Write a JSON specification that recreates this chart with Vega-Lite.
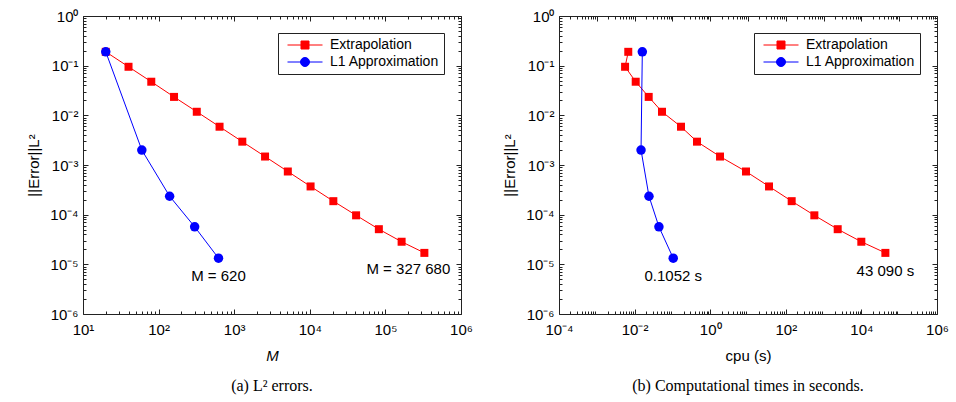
{
  "$schema": "https://vega.github.io/schema/vega-lite/v6.json",
  "background": "white",
  "padding": {"left": 26, "top": 8, "right": 4, "bottom": 4},
  "spacing": 29,
  "resolve": {"legend": {"color": "independent"}},
  "datasets": {
    "a": [
      {"series": "Extrapolation", "i": 0, "x": 20, "err": 0.19},
      {"series": "Extrapolation", "i": 1, "x": 40, "err": 0.095},
      {"series": "Extrapolation", "i": 2, "x": 80, "err": 0.0475},
      {"series": "Extrapolation", "i": 3, "x": 160, "err": 0.0235},
      {"series": "Extrapolation", "i": 4, "x": 320, "err": 0.0118},
      {"series": "Extrapolation", "i": 5, "x": 640, "err": 0.0059},
      {"series": "Extrapolation", "i": 6, "x": 1280, "err": 0.00295},
      {"series": "Extrapolation", "i": 7, "x": 2560, "err": 0.00148},
      {"series": "Extrapolation", "i": 8, "x": 5120, "err": 0.00074},
      {"series": "Extrapolation", "i": 9, "x": 10240, "err": 0.00037},
      {"series": "Extrapolation", "i": 10, "x": 20480, "err": 0.000187},
      {"series": "Extrapolation", "i": 11, "x": 40960, "err": 0.000097},
      {"series": "Extrapolation", "i": 12, "x": 81920, "err": 0.000051},
      {"series": "Extrapolation", "i": 13, "x": 163840, "err": 0.0000285},
      {"series": "Extrapolation", "i": 14, "x": 327680, "err": 0.000017},
      {"series": "L1 Approximation", "i": 0, "x": 20, "err": 0.19},
      {"series": "L1 Approximation", "i": 1, "x": 60, "err": 0.002},
      {"series": "L1 Approximation", "i": 2, "x": 140, "err": 0.000235},
      {"series": "L1 Approximation", "i": 3, "x": 300, "err": 0.000057},
      {"series": "L1 Approximation", "i": 4, "x": 620, "err": 0.0000133}
    ],
    "b": [
      {"series": "Extrapolation", "i": 0, "x": 0.0068, "err": 0.19},
      {"series": "Extrapolation", "i": 1, "x": 0.0056, "err": 0.095},
      {"series": "Extrapolation", "i": 2, "x": 0.0107, "err": 0.0475},
      {"series": "Extrapolation", "i": 3, "x": 0.0236, "err": 0.0235},
      {"series": "Extrapolation", "i": 4, "x": 0.053, "err": 0.0118},
      {"series": "Extrapolation", "i": 5, "x": 0.169, "err": 0.0059},
      {"series": "Extrapolation", "i": 6, "x": 0.448, "err": 0.00295},
      {"series": "Extrapolation", "i": 7, "x": 1.82, "err": 0.00148},
      {"series": "Extrapolation", "i": 8, "x": 8.85, "err": 0.00074},
      {"series": "Extrapolation", "i": 9, "x": 36, "err": 0.00037},
      {"series": "Extrapolation", "i": 10, "x": 143, "err": 0.000187},
      {"series": "Extrapolation", "i": 11, "x": 569, "err": 0.000097},
      {"series": "Extrapolation", "i": 12, "x": 2360, "err": 0.000051},
      {"series": "Extrapolation", "i": 13, "x": 9950, "err": 0.0000285},
      {"series": "Extrapolation", "i": 14, "x": 43090, "err": 0.000017},
      {"series": "L1 Approximation", "i": 0, "x": 0.016, "err": 0.19},
      {"series": "L1 Approximation", "i": 1, "x": 0.0148, "err": 0.002},
      {"series": "L1 Approximation", "i": 2, "x": 0.024, "err": 0.000235},
      {"series": "L1 Approximation", "i": 3, "x": 0.044, "err": 0.000057},
      {"series": "L1 Approximation", "i": 4, "x": 0.1052, "err": 0.0000133}
    ],
    "labA1": [{"x": 620, "err": 0.0000133, "label": "M = 620"}],
    "labA2": [{"x": 327680, "err": 0.000017, "label": "M = 327 680"}],
    "labB": [
      {"x": 0.1052, "err": 0.0000133, "label": "0.1052 s"},
      {"x": 43090, "err": 0.000017, "label": "43 090 s"}
    ]
  },
  "hconcat": [
    {
      "width": 378,
      "height": 298,
      "title": {"text": "(a) L² errors.", "orient": "bottom", "font": "Liberation Serif", "fontSize": 16, "fontWeight": "normal", "color": "black", "offset": 15},
      "resolve": {"axis": {"x": "independent", "y": "independent"}},
      "layer": [
        {
          "data": {"name": "a"},
          "mark": {"type": "line", "strokeWidth": 1},
          "encoding": {
            "x": {"field": "x", "type": "quantitative", "scale": {"type": "log", "domain": [10, 1000000], "nice": false},
              "axis": {"orient": "bottom", "values": [10, 100, 1000, 10000, 100000, 1000000], "title": "M", "titleFontStyle": "italic", "labelPadding": 13, "titlePadding": 11,
                "labelExpr": "'10' + (round(log(datum.value)/LN10) < 0 ? '⁻' : '') + ['⁰','¹','²','³','⁴','⁵','⁶'][abs(round(log(datum.value)/LN10))]"}},
            "y": {"field": "err", "type": "quantitative", "scale": {"type": "log", "domain": [0.000001, 1], "nice": false},
              "axis": {"orient": "left", "values": [0.000001, 0.00001, 0.0001, 0.001, 0.01, 0.1, 1], "title": "||Error||L²", "labelPadding": 10, "titlePadding": 8,
                "labelExpr": "'10' + (round(log(datum.value)/LN10) < 0 ? '⁻' : '') + ['⁰','¹','²','³','⁴','⁵','⁶'][abs(round(log(datum.value)/LN10))]"}},
            "color": {"field": "series", "type": "nominal", "scale": {"domain": ["Extrapolation", "L1 Approximation"], "range": ["#ff0000", "#0000ff"]},
              "legend": {"orient": "top-right", "offset": 17, "title": null, "symbolSize": 25, "symbolStrokeWidth": 1, "labelFont": "Liberation Sans", "labelFontSize": 14, "labelColor": "black", "strokeColor": "#222222", "fillColor": "white", "padding": 5, "rowPadding": 3, "labelOffset": 33,
                "encoding": {"symbols": {
                  "shape": {"condition": {"test": "datum.value === 'Extrapolation'", "value": "M-1,0H13M4.4,-1.6H7.6V1.6H4.4Z"}, "value": "M-1,0H13M7.8,0A1.8,1.8,0,1,1,4.2,0A1.8,1.8,0,1,1,7.8,0Z"},
                  "fill": {"condition": {"test": "datum.value === 'Extrapolation'", "value": "#ff0000"}, "value": "#0000ff"}
                }}}},
            "order": {"field": "i", "type": "quantitative"}
          }
        },
        {
          "data": {"name": "a"},
          "transform": [{"filter": "datum.series === 'Extrapolation'"}],
          "mark": {"type": "point", "shape": "square", "filled": true, "color": "#ff0000", "size": 64, "opacity": 1},
          "encoding": {
            "x": {"field": "x", "type": "quantitative", "scale": {"type": "log", "domain": [10, 1000000], "nice": false},
              "axis": {"orient": "bottom", "values": [20,30,40,50,60,70,80,90,200,300,400,500,600,700,800,900,2000,3000,4000,5000,6000,7000,8000,9000,20000,30000,40000,50000,60000,70000,80000,90000,200000,300000,400000,500000,600000,700000,800000,900000], "labels": false, "title": null, "tickSize": -3}},
            "y": {"field": "err", "type": "quantitative", "scale": {"type": "log", "domain": [0.000001, 1], "nice": false},
              "axis": {"orient": "left", "values": [2e-6,3e-6,4e-6,5e-6,6e-6,7e-6,8e-6,9e-6,2e-5,3e-5,4e-5,5e-5,6e-5,7e-5,8e-5,9e-5,2e-4,3e-4,4e-4,5e-4,6e-4,7e-4,8e-4,9e-4,0.002,0.003,0.004,0.005,0.006,0.007,0.008,0.009,0.02,0.03,0.04,0.05,0.06,0.07,0.08,0.09,0.2,0.3,0.4,0.5,0.6,0.7,0.8,0.9], "labels": false, "title": null, "tickSize": -3}}
          }
        },
        {
          "data": {"name": "a"},
          "transform": [{"filter": "datum.series === 'L1 Approximation'"}],
          "mark": {"type": "point", "shape": "circle", "filled": true, "color": "#0000ff", "size": 90, "opacity": 1},
          "encoding": {
            "x": {"field": "x", "type": "quantitative", "scale": {"type": "log", "domain": [10, 1000000], "nice": false},
              "axis": {"orient": "top", "values": [10, 100, 1000, 10000, 100000, 1000000], "labels": false, "title": null}},
            "y": {"field": "err", "type": "quantitative", "scale": {"type": "log", "domain": [0.000001, 1], "nice": false},
              "axis": {"orient": "right", "values": [0.000001, 0.00001, 0.0001, 0.001, 0.01, 0.1, 1], "labels": false, "title": null}}
          }
        },
        {
          "data": {"name": "labA1"},
          "mark": {"type": "text", "align": "center", "baseline": "middle", "dy": 18, "fontSize": 15, "font": "Liberation Sans", "color": "black"},
          "encoding": {
            "x": {"field": "x", "type": "quantitative", "scale": {"type": "log", "domain": [10, 1000000], "nice": false},
              "axis": {"orient": "top", "values": [20,30,40,50,60,70,80,90,200,300,400,500,600,700,800,900,2000,3000,4000,5000,6000,7000,8000,9000,20000,30000,40000,50000,60000,70000,80000,90000,200000,300000,400000,500000,600000,700000,800000,900000], "labels": false, "title": null, "tickSize": -3}},
            "y": {"field": "err", "type": "quantitative", "scale": {"type": "log", "domain": [0.000001, 1], "nice": false},
              "axis": {"orient": "right", "values": [2e-6,3e-6,4e-6,5e-6,6e-6,7e-6,8e-6,9e-6,2e-5,3e-5,4e-5,5e-5,6e-5,7e-5,8e-5,9e-5,2e-4,3e-4,4e-4,5e-4,6e-4,7e-4,8e-4,9e-4,0.002,0.003,0.004,0.005,0.006,0.007,0.008,0.009,0.02,0.03,0.04,0.05,0.06,0.07,0.08,0.09,0.2,0.3,0.4,0.5,0.6,0.7,0.8,0.9], "labels": false, "title": null, "tickSize": -3}},
            "text": {"field": "label"}
          }
        },
        {
          "data": {"name": "labA2"},
          "mark": {"type": "text", "align": "center", "baseline": "middle", "dx": -16, "dy": 16, "fontSize": 15, "font": "Liberation Sans", "color": "black"},
          "encoding": {
            "x": {"field": "x", "type": "quantitative", "scale": {"type": "log", "domain": [10, 1000000], "nice": false}, "axis": null},
            "y": {"field": "err", "type": "quantitative", "scale": {"type": "log", "domain": [0.000001, 1], "nice": false}, "axis": null},
            "text": {"field": "label"}
          }
        }
      ]
    },
    {
      "width": 378,
      "height": 298,
      "title": {"text": "(b) Computational times in seconds.", "orient": "bottom", "font": "Liberation Serif", "fontSize": 16, "fontWeight": "normal", "color": "black", "offset": 15},
      "resolve": {"axis": {"x": "independent", "y": "independent"}},
      "layer": [
        {
          "data": {"name": "b"},
          "mark": {"type": "line", "strokeWidth": 1},
          "encoding": {
            "x": {"field": "x", "type": "quantitative", "scale": {"type": "log", "domain": [0.0001, 1000000], "nice": false},
              "axis": {"orient": "bottom", "values": [0.0001, 0.01, 1, 100, 10000, 1000000], "title": "cpu (s)", "labelPadding": 13, "titlePadding": 11,
                "labelExpr": "'10' + (round(log(datum.value)/LN10) < 0 ? '⁻' : '') + ['⁰','¹','²','³','⁴','⁵','⁶'][abs(round(log(datum.value)/LN10))]"}},
            "y": {"field": "err", "type": "quantitative", "scale": {"type": "log", "domain": [0.000001, 1], "nice": false},
              "axis": {"orient": "left", "values": [0.000001, 0.00001, 0.0001, 0.001, 0.01, 0.1, 1], "title": "||Error||L²", "labelPadding": 10, "titlePadding": 8,
                "labelExpr": "'10' + (round(log(datum.value)/LN10) < 0 ? '⁻' : '') + ['⁰','¹','²','³','⁴','⁵','⁶'][abs(round(log(datum.value)/LN10))]"}},
            "color": {"field": "series", "type": "nominal", "scale": {"domain": ["Extrapolation", "L1 Approximation"], "range": ["#ff0000", "#0000ff"]},
              "legend": {"orient": "top-right", "offset": 17, "title": null, "symbolSize": 25, "symbolStrokeWidth": 1, "labelFont": "Liberation Sans", "labelFontSize": 14, "labelColor": "black", "strokeColor": "#222222", "fillColor": "white", "padding": 5, "rowPadding": 3, "labelOffset": 33,
                "encoding": {"symbols": {
                  "shape": {"condition": {"test": "datum.value === 'Extrapolation'", "value": "M-1,0H13M4.4,-1.6H7.6V1.6H4.4Z"}, "value": "M-1,0H13M7.8,0A1.8,1.8,0,1,1,4.2,0A1.8,1.8,0,1,1,7.8,0Z"},
                  "fill": {"condition": {"test": "datum.value === 'Extrapolation'", "value": "#ff0000"}, "value": "#0000ff"}
                }}}},
            "order": {"field": "i", "type": "quantitative"}
          }
        },
        {
          "data": {"name": "b"},
          "transform": [{"filter": "datum.series === 'Extrapolation'"}],
          "mark": {"type": "point", "shape": "square", "filled": true, "color": "#ff0000", "size": 64, "opacity": 1},
          "encoding": {
            "x": {"field": "x", "type": "quantitative", "scale": {"type": "log", "domain": [0.0001, 1000000], "nice": false},
              "axis": {"orient": "bottom", "values": [0.0002,0.0003,0.0004,0.0005,0.0006,0.0007,0.0008,0.0009,0.002,0.003,0.004,0.005,0.006,0.007,0.008,0.009,0.02,0.03,0.04,0.05,0.06,0.07,0.08,0.09,0.2,0.3,0.4,0.5,0.6,0.7,0.8,0.9,2,3,4,5,6,7,8,9,20,30,40,50,60,70,80,90,200,300,400,500,600,700,800,900,2000,3000,4000,5000,6000,7000,8000,9000,20000,30000,40000,50000,60000,70000,80000,90000,200000,300000,400000,500000,600000,700000,800000,900000], "labels": false, "title": null, "tickSize": -3}},
            "y": {"field": "err", "type": "quantitative", "scale": {"type": "log", "domain": [0.000001, 1], "nice": false},
              "axis": {"orient": "left", "values": [2e-6,3e-6,4e-6,5e-6,6e-6,7e-6,8e-6,9e-6,2e-5,3e-5,4e-5,5e-5,6e-5,7e-5,8e-5,9e-5,2e-4,3e-4,4e-4,5e-4,6e-4,7e-4,8e-4,9e-4,0.002,0.003,0.004,0.005,0.006,0.007,0.008,0.009,0.02,0.03,0.04,0.05,0.06,0.07,0.08,0.09,0.2,0.3,0.4,0.5,0.6,0.7,0.8,0.9], "labels": false, "title": null, "tickSize": -3}}
          }
        },
        {
          "data": {"name": "b"},
          "transform": [{"filter": "datum.series === 'L1 Approximation'"}],
          "mark": {"type": "point", "shape": "circle", "filled": true, "color": "#0000ff", "size": 90, "opacity": 1},
          "encoding": {
            "x": {"field": "x", "type": "quantitative", "scale": {"type": "log", "domain": [0.0001, 1000000], "nice": false},
              "axis": {"orient": "top", "values": [0.0001, 0.001, 0.01, 0.1, 1, 10, 100, 1000, 10000, 100000, 1000000], "labels": false, "title": null}},
            "y": {"field": "err", "type": "quantitative", "scale": {"type": "log", "domain": [0.000001, 1], "nice": false},
              "axis": {"orient": "right", "values": [0.000001, 0.00001, 0.0001, 0.001, 0.01, 0.1, 1], "labels": false, "title": null}}
          }
        },
        {
          "data": {"name": "labB"},
          "mark": {"type": "text", "align": "center", "baseline": "middle", "dy": 18, "fontSize": 15, "font": "Liberation Sans", "color": "black"},
          "encoding": {
            "x": {"field": "x", "type": "quantitative", "scale": {"type": "log", "domain": [0.0001, 1000000], "nice": false},
              "axis": {"orient": "top", "values": [0.0002,0.0003,0.0004,0.0005,0.0006,0.0007,0.0008,0.0009,0.002,0.003,0.004,0.005,0.006,0.007,0.008,0.009,0.02,0.03,0.04,0.05,0.06,0.07,0.08,0.09,0.2,0.3,0.4,0.5,0.6,0.7,0.8,0.9,2,3,4,5,6,7,8,9,20,30,40,50,60,70,80,90,200,300,400,500,600,700,800,900,2000,3000,4000,5000,6000,7000,8000,9000,20000,30000,40000,50000,60000,70000,80000,90000,200000,300000,400000,500000,600000,700000,800000,900000], "labels": false, "title": null, "tickSize": -3}},
            "y": {"field": "err", "type": "quantitative", "scale": {"type": "log", "domain": [0.000001, 1], "nice": false},
              "axis": {"orient": "right", "values": [2e-6,3e-6,4e-6,5e-6,6e-6,7e-6,8e-6,9e-6,2e-5,3e-5,4e-5,5e-5,6e-5,7e-5,8e-5,9e-5,2e-4,3e-4,4e-4,5e-4,6e-4,7e-4,8e-4,9e-4,0.002,0.003,0.004,0.005,0.006,0.007,0.008,0.009,0.02,0.03,0.04,0.05,0.06,0.07,0.08,0.09,0.2,0.3,0.4,0.5,0.6,0.7,0.8,0.9], "labels": false, "title": null, "tickSize": -3}},
            "text": {"field": "label"}
          }
        }
      ]
    }
  ],
  "config": {
    "view": {"stroke": "#222222", "strokeWidth": 1},
    "axis": {"grid": false, "domain": false, "tickColor": "#222222", "tickWidth": 1, "tickSize": -5, "labelColor": "black", "titleColor": "black", "labelFont": "Liberation Sans", "titleFont": "Liberation Sans", "labelFontSize": 15, "titleFontSize": 15, "titleFontWeight": "normal", "labelFlush": false, "labelOverlap": false}
  }
}
